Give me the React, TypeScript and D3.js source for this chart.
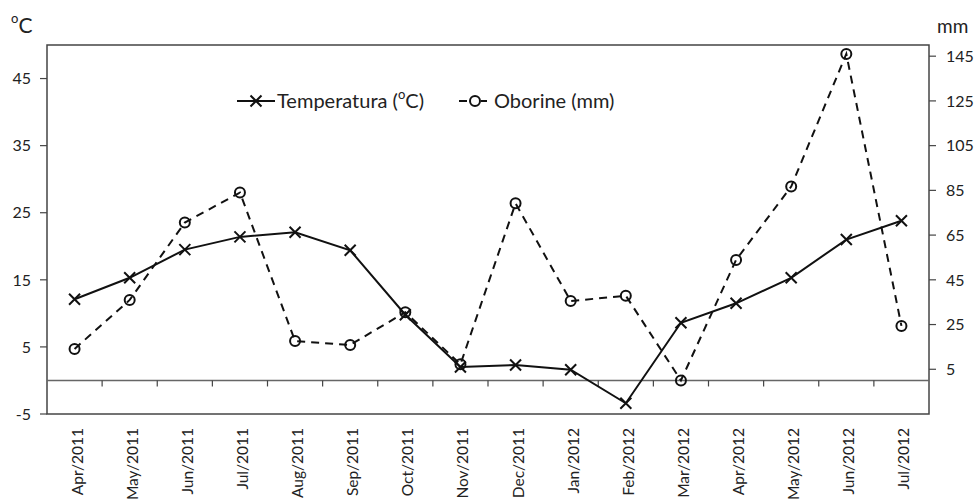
import React from "react";
import * as d3 from "d3";

const months = ["Apr/2011","May/2011","Jun/2011","Jul/2011","Aug/2011","Sep/2011","Oct/2011","Nov/2011","Dec/2011","Jan/2012","Feb/2012","Mar/2012","Apr/2012","May/2012","Jun/2012","Jul/2012"];
const temperature = [12.1, 15.3, 19.5, 21.4, 22.1, 19.4, 9.8, 2.0, 2.3, 1.6, -3.4, 8.6, 11.5, 15.3, 21.0, 23.8];
const precipitation = [14.1, 36.0, 70.6, 84.0, 17.6, 15.9, 30.5, 7.2, 79.2, 35.5, 37.9, 0, 53.9, 86.7, 146, 24.4];
const leftTicks = [-5, 5, 15, 25, 35, 45];
const rightTicks = [5, 25, 45, 65, 85, 105, 125, 145];

const W = 974, H = 503;
const L = 47, R = 929, T = 45, B = 414;
const FONT = "Lato, 'Open Sans', sans-serif";

export default function App() {
  const x = d3.scaleBand<string>().domain(months).range([L, R]).padding(0);
  const yL = d3.scaleLinear().domain([-5, 50]).range([B, T]);
  const yR = d3.scaleLinear().domain([-15, 150]).range([B, T]);
  const cx = (m: string) => (x(m) as number) + x.bandwidth() / 2;
  const tLine = d3.line<number>().x((_, i) => cx(months[i])).y((d) => yL(d))(temperature) as string;
  const pLine = d3.line<number>().x((_, i) => cx(months[i])).y((d) => yR(d))(precipitation) as string;
  const zeroY = yL(0);
  const cross = (px: number, py: number, s = 5.5) => `M${px - s},${py - s}L${px + s},${py + s}M${px - s},${py + s}L${px + s},${py - s}`;
  const ink = "#111";
  const txt = "#222";
  return (
    <svg width={W} height={H} style={{ position: "absolute", left: 0, top: 0, background: "#fff" }} fontFamily={FONT}>
      <rect x={0} y={0} width={W} height={H} fill="#fff" />
      <rect x={L} y={T} width={R - L} height={B - T} fill="none" stroke="#444" strokeWidth={1.5} />
      <line x1={L} x2={R} y1={zeroY} y2={zeroY} stroke="#666" strokeWidth={1.5} />
      {months.slice(1).map((m) => (
        <line key={m} x1={x(m)} x2={x(m)} y1={zeroY} y2={zeroY + 6} stroke="#444" strokeWidth={1.2} />
      ))}
      {leftTicks.map((t) => (
        <g key={"l" + t}>
          <line x1={L - 7} x2={L} y1={yL(t)} y2={yL(t)} stroke="#444" strokeWidth={1.2} />
          <text x={L - 16} y={yL(t)} dy="0.36em" textAnchor="end" fontSize={16} fill={txt}>{t}</text>
        </g>
      ))}
      {rightTicks.map((t) => (
        <g key={"r" + t}>
          <line x1={R} x2={R + 7} y1={yR(t)} y2={yR(t)} stroke="#444" strokeWidth={1.2} />
          <text x={R + 17} y={yR(t)} dy="0.36em" textAnchor="start" fontSize={16} fill={txt}>{t}</text>
        </g>
      ))}
      <text x={11} y={33} fontSize={21} fill={txt}><tspan dy="-10" fontSize={13}>o</tspan><tspan dy="10">C</tspan></text>
      <text x={937} y={33} fontSize={19} fill={txt}>mm</text>
      {months.map((m) => (
        <text key={"x" + m} transform={`translate(${cx(m) + 8},428) rotate(-90)`} textAnchor="end" fontSize={15.5} fill={txt}>{m}</text>
      ))}
      <path d={pLine} fill="none" stroke={ink} strokeWidth={2} strokeDasharray="8,6" />
      {precipitation.map((v, i) => (
        <circle key={"p" + i} cx={cx(months[i])} cy={yR(v)} r={5} fill="none" stroke={ink} strokeWidth={2} />
      ))}
      <path d={tLine} fill="none" stroke={ink} strokeWidth={2} />
      {temperature.map((v, i) => (
        <path key={"t" + i} d={cross(cx(months[i]), yL(v))} stroke={ink} strokeWidth={2} fill="none" />
      ))}
      <line x1={237} x2={275} y1={101} y2={101} stroke={ink} strokeWidth={2} />
      <path d={cross(256, 101)} stroke={ink} strokeWidth={2} fill="none" />
      <text x={277} y={101} dy="0.36em" fontSize={20} fill={txt}>Temperatura (<tspan dy="-9" fontSize={13}>o</tspan><tspan dy="9">C)</tspan></text>
      <line x1={459} x2={467} y1={101} y2={101} stroke={ink} strokeWidth={2} />
      <line x1={481} x2={487} y1={101} y2={101} stroke={ink} strokeWidth={2} />
      <circle cx={475} cy={101} r={5} fill="none" stroke={ink} strokeWidth={2} />
      <text x={494} y={101} dy="0.36em" fontSize={20} fill={txt}>Oborine (mm)</text>
    </svg>
  );
}
